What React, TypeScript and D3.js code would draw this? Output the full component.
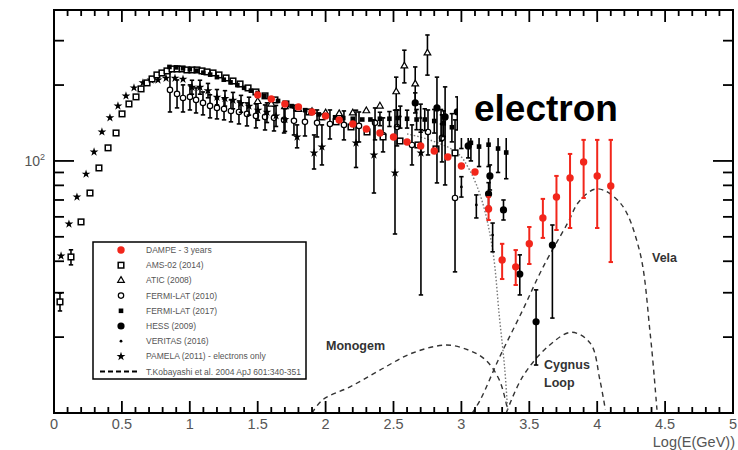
import React from "react";
import * as d3 from "d3";

const W = 738;
const H = 450;
const PLOT = { left: 54, right: 733, top: 10, bottom: 413 };

// x: log10(E/GeV), y: E^3 flux
const xTickValues = [0, 0.5, 1, 1.5, 2, 2.5, 3, 3.5, 4, 4.5, 5];
const xTickLabels = ["0", "0.5", "1", "1.5", "2", "2.5", "3", "3.5", "4", "4.5", "5"];
const yMinorTicks = [20, 30, 40, 50, 60, 70, 80, 90, 200, 300];
const yMajorTicks = [100];

// DAMPE - 3 years
const dampeLogE = [1.5, 1.6, 1.7, 1.8, 1.9, 2.0, 2.1, 2.2, 2.3, 2.4, 2.5, 2.6, 2.7, 2.8, 2.9, 3.0, 3.1, 3.2, 3.3, 3.4, 3.5, 3.6, 3.7, 3.8, 3.9, 4.0, 4.1];
const dampeFlux = [182.8, 176.2, 168.3, 163.8, 156.4, 150.9, 145.4, 140.2, 133.9, 129.1, 124.5, 118.9, 114.7, 109.5, 103.7, 95.5, 90.4, 64.5, 40.5, 38.0, 46.9, 59.4, 71.9, 85.6, 99.1, 87.2, 79.6];
const dampeLo = [null, null, null, null, null, null, null, null, null, null, null, null, null, null, null, null, null, 58.3, 34.0, 32.2, 39.0, 49.5, 53.2, 54.2, 71.3, 54.2, 39.7];
const dampeHi = [null, null, null, null, null, null, null, null, null, null, null, null, null, null, null, null, null, 71.9, 46.9, 44.3, 54.7, 70.7, 87.2, 106.6, 121.2, 121.2, 121.2];

// AMS-02 (2014)
const amsLogE = [0.044, 0.125, 0.199, 0.265, 0.331, 0.398, 0.457, 0.501, 0.552, 0.604, 0.641, 0.685, 0.722, 0.758, 0.795, 0.832, 0.869, 0.906, 0.943, 0.979, 1.016, 1.053, 1.09, 1.127, 1.171, 1.215, 1.267, 1.318, 1.37, 1.429, 1.487, 1.554, 1.627, 1.708, 1.789, 1.878, 1.973, 2.077, 2.187, 2.305, 2.423, 2.548, 2.68, 2.813, 2.953];
const amsFlux = [27.6, 41.6, 57.3, 74.6, 93.8, 112.7, 129.1, 153.7, 168.3, 179.5, 193.1, 204.0, 211.5, 219.4, 223.4, 227.6, 231.7, 231.7, 231.7, 229.6, 229.6, 229.6, 227.6, 225.5, 223.4, 219.4, 213.4, 207.6, 202.0, 194.8, 187.8, 181.2, 174.6, 168.3, 162.3, 156.4, 149.5, 142.9, 136.4, 130.3, 124.5, 120.0, 115.7, 111.6, 107.6];
const amsLo = [25.4, 38.7];
const amsHi = [29.9, 44.4];

// ATIC (2008)
const aticLogE = [1.5, 1.6, 1.7, 1.8, 1.9, 2.0, 2.1, 2.2, 2.3, 2.4, 2.52, 2.58, 2.66, 2.75];
const aticFlux = [172, 168, 164, 160, 157, 155, 154, 155, 158, 165, 188, 238, 202, 268];
const aticLo = [null, null, null, null, null, null, null, null, null, null, 159, 204, 170, 219];
const aticHi = [null, null, null, null, null, null, null, null, null, null, 215, 275, 236, 316];

// FERMI-LAT (2010)
const fermi10LogE = [0.854, 0.906, 0.95, 1.001, 1.046, 1.097, 1.149, 1.2, 1.252, 1.303, 1.362, 1.421, 1.487, 1.554, 1.62, 1.694, 1.767, 1.848, 1.937, 2.032, 2.135, 2.246, 2.364, 2.423, 2.526, 2.636, 2.754, 2.857, 2.953];
const fermi10Flux = [191.3, 184.5, 177.8, 179.5, 174.6, 169.9, 165.3, 162.3, 160.8, 157.9, 156.4, 153.7, 150.9, 149.5, 148.2, 145.5, 144.2, 142.9, 141.6, 140.2, 139.0, 137.7, 141.6, 126.8, 136.4, 115.7, 130.3, 123.4, 71.3];
const fermi10Lo = [156.4, 162.3, 156.4, 159.3, 155.0, 152.3, 148.2, 146.8, 145.5, 142.9, 140.2, 137.7, 135.2, 132.7, 131.5, 129.1, 126.8, 125.6, 124.5, 122.2, 121.2, 118.9, 121.2, 108.6, 114.7, 96.4, 105.6, 99.1, 36.3];
const fermi10Hi = [225.5, 209.6, 200.3, 200.3, 194.8, 187.8, 183.0, 177.8, 176.2, 174.6, 173.0, 169.9, 168.3, 166.8, 165.3, 163.8, 162.3, 160.8, 159.3, 159.3, 157.9, 156.4, 162.3, 148.2, 159.3, 139.0, 159.3, 152.3, 145.5];

// FERMI-LAT (2017)
const fermi17LogE = [0.85, 0.9, 0.95, 1.0, 1.05, 1.1, 1.15, 1.2, 1.25, 1.3, 1.35, 1.4, 1.45, 1.5, 1.55, 1.6, 1.65, 1.7, 1.75, 1.8, 1.85, 1.9, 1.95, 2.0, 2.07, 2.13, 2.2, 2.27, 2.33, 2.4, 2.47, 2.53, 2.6, 2.67, 2.73, 2.8, 2.87, 2.93, 3.0, 3.07, 3.13, 3.2, 3.27, 3.33];
const fermi17Flux = [236, 235, 233, 231, 228, 224, 220, 215, 210, 205, 200, 195, 190, 186, 181, 177, 173, 169, 165, 162, 159, 156, 153, 151, 149, 148, 147, 146, 146, 147, 147, 148, 147, 146, 146, 144, 141, 136, 130, 118, 114, 116, 112, 108];
const fermi17Lo = [null, null, null, null, null, null, null, null, null, null, null, null, null, null, null, null, null, null, null, null, null, null, null, null, null, null, null, null, null, 138, 137, 137, 135, 133, 132, 129, 125, 119, 112, 100, 95, 95, 90, 85];
const fermi17Hi = [null, null, null, null, null, null, null, null, null, null, null, null, null, null, null, null, null, null, null, null, null, null, null, null, null, null, null, null, null, 156, 157, 159, 159, 160, 161, 160, 158, 154, 149, 137, 134, 138, 135, 132];

// HESS (2009)
const hessLogE = [2.66, 2.82, 2.88, 2.97, 3.05, 3.2, 3.21, 3.31, 3.43, 3.55, 3.67];
const hessFlux = [169.9, 162.3, 149.5, 156.4, 114.7, 74.0, 87.2, 63.9, 35.6, 23.0, 46.4];
const hessLo = [155.0, 81.8, 80.3, 132.7, 102.8, 66.0, 76.7, 58.3, 29.4, 15.5, 23.8];
const hessHi = [186.2, 215.0, 196.7, 179.5, 126.8, 82.0, 96.4, 70.0, 42.4, 30.8, 55.7];

// VERITAS (2016)
const veritasLogE = [2.55, 2.7, 2.85, 3.0, 3.11, 3.23];
const veritasFlux = [150, 148, 140, 78.9, 66.9, 50.8];
const veritasLo = [135, 130, 120, 71.9, 59.4, 43.6];
const veritasHi = [165, 168, 160, 86.6, 73.3, 56.7];

// PAMELA (2011) - electrons only
const pamelaLogE = [0.052, 0.11, 0.169, 0.236, 0.295, 0.353, 0.412, 0.471, 0.53, 0.589, 0.655, 0.714, 0.766, 0.825, 0.891, 0.95, 1.016, 1.075, 1.134, 1.2, 1.259, 1.318, 1.377, 1.436, 1.502, 1.568, 1.635, 1.701, 1.79, 1.915, 1.973, 2.224, 2.356, 2.511, 2.702];
const pamelaFlux = [42.0, 56.2, 71.9, 88.7, 108.6, 130.4, 148.3, 165.2, 181.2, 195.0, 204.2, 209.6, 209.6, 213, 213, 211, 196, 196, 190, 179, 177, 174, 169, 165, 159, 156, 151, 146, 124.5, 107.6, 113.7, 117.8, 105.6, 89.6, 107.6];
const pamelaLo = [null, null, null, null, null, null, null, null, null, null, null, null, null, null, null, null, 184, 184, 178, 167, 165, 161, 156, 152, 145, 142, 137, 131, 112.7, 92.9, 96.4, 94.2, 74.6, 51.3, 29.4];
const pamelaHi = [null, null, null, null, null, null, null, null, null, null, null, null, null, null, null, null, 209, 209, 203, 192, 190, 187, 182, 179, 173, 170, 166, 161, 139, 126.8, 139, 159, 145.5, 159, 133];

// T. Kobayashi et al. 2004 source contributions
const monogemLogE = [1.9, 1.98, 2.18, 2.4, 2.64, 2.89, 3.06, 3.18, 3.28, 3.34];
const monogemFlux = [10.0, 11.3, 12.7, 14.8, 17.3, 18.6, 17.7, 16.2, 13.5, 10.3];
const velaLogE = [3.08, 3.14, 3.28, 3.45, 3.6, 3.78, 3.87, 4.0, 4.17, 4.31, 4.39, 4.44];
const velaFlux = [10, 11.3, 16.6, 25.5, 37.8, 56.4, 69.4, 77.5, 68.1, 44.4, 20.7, 10.3];
const cygnusLogE = [3.33, 3.45, 3.63, 3.81, 3.95, 4.02, 4.06];
const cygnusFlux = [10, 13.9, 18.2, 20.9, 18.9, 13.5, 10.3];
const totalLogE = [2.6, 2.77, 2.97, 3.06, 3.15, 3.23, 3.28, 3.32, 3.34];
const totalFlux = [128, 121, 107.6, 92.1, 70.0, 44.4, 24.0, 14.8, 10.3];

const legendLabels = [
  "DAMPE -  3 years",
  "AMS-02 (2014)",
  "ATIC (2008)",
  "FERMI-LAT (2010)",
  "FERMI-LAT (2017)",
  "HESS (2009)",
  "VERITAS (2016)",
  "PAMELA (2011) - electrons only",
  "T.Kobayashi et al. 2004 ApJ 601:340-351",
];

const RED = "#f2261b";
const FONT = "'Liberation Sans', Arial, Helvetica, sans-serif";
const GREY = "#555";

const x = d3.scaleLinear().domain([0, 5]).range([PLOT.left, PLOT.right]);
const y = d3.scaleLog().domain([10, 397]).range([PLOT.bottom, PLOT.top]);

type Marker = "dampe" | "ams" | "atic" | "fermi10" | "fermi17" | "hess" | "veritas" | "pamela";

const trianglePath = d3.symbol(d3.symbolTriangle, 19)() || "";
const starPath = d3.symbol(d3.symbolStar, 24)() || "";

function MarkerShape({ kind, cx, cy }: { kind: Marker; cx: number; cy: number }) {
  switch (kind) {
    case "dampe":
      return <circle cx={cx} cy={cy} r={3.7} fill={RED} />;
    case "ams":
      return <rect x={cx - 2.8} y={cy - 2.8} width={5.6} height={5.6} fill="#fff" stroke="#000" strokeWidth={1.5} />;
    case "atic":
      return (
        <path transform={`translate(${cx},${cy})`} d={trianglePath} fill="#fff" stroke="#000" strokeWidth={1.2} />
      );
    case "fermi10":
      return <circle cx={cx} cy={cy} r={2.7} fill="#fff" stroke="#000" strokeWidth={1.2} />;
    case "fermi17":
      return <rect x={cx - 2.3} y={cy - 2.3} width={4.6} height={4.6} fill="#000" />;
    case "hess":
      return <circle cx={cx} cy={cy} r={3.6} fill="#000" />;
    case "veritas":
      return <circle cx={cx} cy={cy} r={1.4} fill="#000" />;
    case "pamela":
      return <path transform={`translate(${cx},${cy})`} d={starPath} fill="#000" />;
  }
}

function Series({
  kind,
  xs,
  ys,
  lo,
  hi,
  color = "#000",
}: {
  kind: Marker;
  xs: number[];
  ys: number[];
  lo: (number | null)[];
  hi: (number | null)[];
  color?: string;
}) {
  return (
    <g>
      {xs.map((v, i) => {
        const l = lo[i];
        const h = hi[i];
        if (l == null || h == null) return null;
        const px = x(v);
        return (
          <g key={"e" + i} stroke={color} strokeWidth={kind === "dampe" ? 2 : 1.6}>
            <line x1={px} x2={px} y1={y(l)} y2={y(h)} />
            <line x1={px - 2.2} x2={px + 2.2} y1={y(l)} y2={y(l)} />
            <line x1={px - 2.2} x2={px + 2.2} y1={y(h)} y2={y(h)} />
          </g>
        );
      })}
      {xs.map((v, i) => (
        <MarkerShape key={"m" + i} kind={kind} cx={x(v)} cy={y(ys[i])} />
      ))}
    </g>
  );
}

function curvePath(xs: number[], ys: number[]) {
  const line = d3
    .line<number>()
    .x((_, i) => x(xs[i]))
    .y((_, i) => y(ys[i]))
    .curve(d3.curveCatmullRom.alpha(0.5));
  return line(ys) || "";
}

export default function App() {
  const minorX = d3.range(0, 51).map((i) => i / 10);
  const legendKinds: Marker[] = ["dampe", "ams", "atic", "fermi10", "fermi17", "hess", "veritas", "pamela"];
  const legendY0 = 250;
  const legendStep = 15.2;

  return (
    <svg width={W} height={H} style={{ display: "block", position: "absolute", left: 0, top: 0 }} fontFamily={FONT}>
      <rect width={W} height={H} fill="#fff" />

      {/* model curves */}
      <g fill="none" stroke="#333" strokeWidth={1.4} strokeDasharray="5,4">
        <path d={curvePath(monogemLogE, monogemFlux)} />
        <path d={curvePath(velaLogE, velaFlux)} />
        <path d={curvePath(cygnusLogE, cygnusFlux)} />
      </g>
      <path d={curvePath(totalLogE, totalFlux)} fill="none" stroke="#777" strokeWidth={1.4} strokeDasharray="1.5,2" />

      {/* measurements */}
      <Series kind="fermi10" xs={fermi10LogE} ys={fermi10Flux} lo={fermi10Lo} hi={fermi10Hi} />
      <Series kind="pamela" xs={pamelaLogE} ys={pamelaFlux} lo={pamelaLo} hi={pamelaHi} />
      <Series kind="ams" xs={amsLogE} ys={amsFlux} lo={amsLo} hi={amsHi} />
      <Series kind="fermi17" xs={fermi17LogE} ys={fermi17Flux} lo={fermi17Lo} hi={fermi17Hi} />
      <Series kind="atic" xs={aticLogE} ys={aticFlux} lo={aticLo} hi={aticHi} />
      <Series kind="veritas" xs={veritasLogE} ys={veritasFlux} lo={veritasLo} hi={veritasHi} />
      <Series kind="hess" xs={hessLogE} ys={hessFlux} lo={hessLo} hi={hessHi} />
      <Series kind="dampe" xs={dampeLogE} ys={dampeFlux} lo={dampeLo} hi={dampeHi} color={RED} />

      {/* title */}
      <rect x={458} y={70} width={172} height={68} fill="#fff" />
      <text x={474} y={121} fontSize={37} fontWeight="bold" fill="#000">
        electron
      </text>

      {/* source labels */}
      <g fontSize={12.5} fontWeight="bold" fill="#333">
        <text x={326} y={350}>Monogem</text>
        <text x={544} y={369}>Cygnus</text>
        <text x={544} y={387}>Loop</text>
        <text x={652} y={262}>Vela</text>
      </g>

      {/* legend */}
      <rect x={93} y={242} width={213} height={137} fill="#fff" stroke="#000" strokeWidth={1.5} />
      {legendKinds.map((k, i) => (
        <MarkerShape key={k} kind={k} cx={121} cy={legendY0 + i * legendStep} />
      ))}
      <line
        x1={100}
        x2={138}
        y1={legendY0 + 8 * legendStep}
        y2={legendY0 + 8 * legendStep}
        stroke="#000"
        strokeWidth={2}
        strokeDasharray="5,3"
      />
      <g fontSize={8.5} fill={GREY}>
        {legendLabels.map((t, i) => (
          <text key={t} x={146} y={legendY0 + i * legendStep + 3}>
            {t}
          </text>
        ))}
      </g>

      {/* frame and ticks */}
      <rect
        x={PLOT.left}
        y={PLOT.top}
        width={PLOT.right - PLOT.left}
        height={PLOT.bottom - PLOT.top}
        fill="none"
        stroke="#000"
        strokeWidth={2}
      />
      <g stroke="#000" strokeWidth={1.8}>
        {minorX.map((v) => {
          const major = Math.abs(v * 2 - Math.round(v * 2)) < 1e-6;
          const len = major ? 12 : 6;
          const px = x(v);
          return (
            <g key={"xt" + v}>
              <line x1={px} x2={px} y1={PLOT.bottom} y2={PLOT.bottom - len} />
              <line x1={px} x2={px} y1={PLOT.top} y2={PLOT.top + len} />
            </g>
          );
        })}
        {yMinorTicks.map((v) => (
          <g key={"ym" + v}>
            <line x1={PLOT.left} x2={PLOT.left + 10} y1={y(v)} y2={y(v)} />
            <line x1={PLOT.right} x2={PLOT.right - 10} y1={y(v)} y2={y(v)} />
          </g>
        ))}
        {yMajorTicks.map((v) => (
          <g key={"yM" + v}>
            <line x1={PLOT.left} x2={PLOT.left + 20} y1={y(v)} y2={y(v)} />
            <line x1={PLOT.right} x2={PLOT.right - 20} y1={y(v)} y2={y(v)} />
          </g>
        ))}
      </g>

      <g fontSize={14.5} fill={GREY} textAnchor="middle">
        {xTickValues.map((v, i) => (
          <text key={"xl" + v} x={x(v)} y={429}>
            {xTickLabels[i]}
          </text>
        ))}
      </g>
      <text x={735} y={447} fontSize={14.5} fill={GREY} textAnchor="end">
        Log(E(GeV))
      </text>
      {yMajorTicks.map((v) => (
        <text key={"yl" + v} x={45} y={y(v) + 5} fontSize={14} fill={GREY} textAnchor="end">
          10
          <tspan dy={-6} fontSize={9}>
            2
          </tspan>
        </text>
      ))}
    </svg>
  );
}
